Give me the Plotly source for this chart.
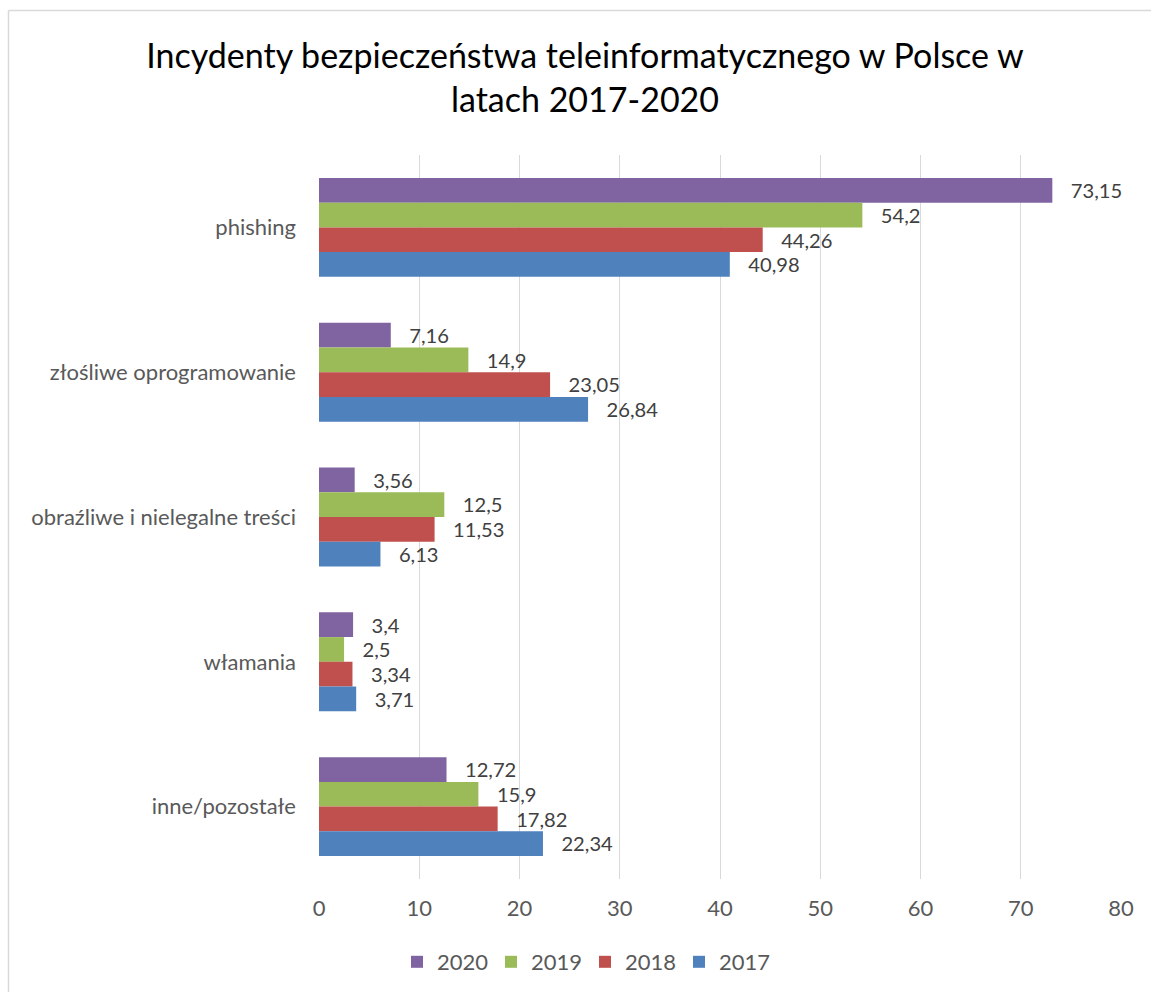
import plotly.graph_objects as go

categories = ["phishing", "złośliwe oprogramowanie", "obraźliwe i nielegalne treści", "włamania", "inne/pozostałe"]
years = ["2020", "2019", "2018", "2017"]
v2020 = [73.15, 7.16, 3.56, 3.4, 12.72]
v2019 = [54.2, 14.9, 12.5, 2.5, 15.9]
v2018 = [44.26, 23.05, 11.53, 3.34, 17.82]
v2017 = [40.98, 26.84, 6.13, 3.71, 22.34]
colors = ["#8064A2", "#9BBB59", "#C0504D", "#4F81BD"]
xticks = [0, 10, 20, 30, 40, 50, 60, 70, 80]

W, H = 1151, 992
L, R, T, B = 319, 30, 155, 113
FONT = "Lato"
FS = 22

def fmt(v):
    return "\u00a0\u00a0\u00a0" + str(v).replace(".", ",")

fig = go.Figure()
for name, vals, col in zip(years, [v2020, v2019, v2018, v2017], colors):
    fig.add_trace(go.Bar(
        y=categories, x=vals, name=name, orientation="h",
        marker=dict(color=col, line=dict(width=0)),
        text=[fmt(v) for v in vals], textposition="outside",
        textfont=dict(family=FONT, size=FS, color="#404040"),
        cliponaxis=False,
    ))

pw = W - L - R
ph = H - T - B
def px2x(p):
    return (p - L) / pw
def py2y(p):
    return (H - B - p) / ph

border = dict(color="#D9D9D9", width=1.5)
shapes = [
    dict(type="line", xref="paper", yref="paper", x0=px2x(8.5), x1=px2x(8.5), y0=py2y(1000), y1=py2y(10.5), line=border),
    dict(type="line", xref="paper", yref="paper", x0=px2x(8.5), x1=px2x(1160), y0=py2y(10.5), y1=py2y(10.5), line=border),
]

fig.update_layout(
    width=W, height=H,
    margin=dict(l=L, r=R, t=T, b=B, autoexpand=False),
    paper_bgcolor="white", plot_bgcolor="white",
    barmode="group", bargap=0.317, bargroupgap=0,
    font=dict(family=FONT, size=FS, color="#595959"),
    title=dict(
        text="Incydenty bezpieczeństwa teleinformatycznego w Polsce w<br>latach 2017-2020",
        font=dict(family=FONT, size=34, color="#000000"),
        x=585 / W, xanchor="center", xref="container",
        y=1 - 68 / H, yanchor="top", yref="container",
    ),
    xaxis=dict(
        range=[0, 80], tickvals=xticks, showgrid=True, gridcolor="#D9D9D9", gridwidth=1.3,
        zeroline=False, showline=False, ticks="", ticklabelstandoff=14,
        tickfont=dict(family=FONT, size=FS, color="#595959"),
    ),
    yaxis=dict(
        autorange="reversed", showgrid=False, zeroline=False, showline=False, ticks="",
        ticklabelstandoff=22, tickfont=dict(family=FONT, size=FS, color="#595959"),
    ),
    legend=dict(
        orientation="h", xref="container", yref="container",
        x=585 / W, xanchor="center", y=1 - 962 / H, yanchor="middle",
        font=dict(family=FONT, size=FS, color="#595959"),
        itemwidth=30, entrywidth=49, entrywidthmode="pixels",
        itemclick=False,
    ),
    showlegend=True,
    shapes=shapes,
)

fig.write_html("out.html")
